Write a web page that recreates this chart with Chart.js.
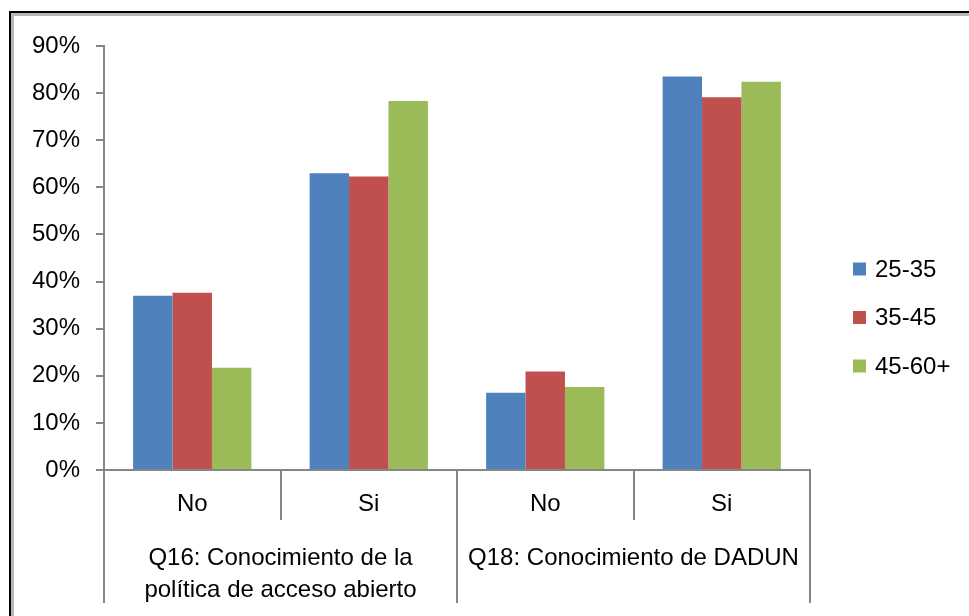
<!DOCTYPE html>
<html>
<head>
<meta charset="utf-8">
<script src="https://cdn.jsdelivr.net/npm/chart.js@4.4.0/dist/chart.umd.min.js"></script>
<style>
  html, body { margin: 0; padding: 0; background: #fff; overflow: hidden; }
  #frame { position: absolute; left: 9px; top: 11px; width: 1000px; height: 700px;
           border-left: 2px solid #000; border-top: 2px solid #000; }
  #frame div { position: absolute; left: 0; top: 0; right: 0; bottom: 0;
               border-left: 3px solid #b8b8b8; border-top: 3px solid #b8b8b8; }
  #wrap { position: absolute; left: 0; top: 0; width: 969px; height: 616px; }
</style>
</head>
<body>
<div id="frame"><div></div></div>
<div id="wrap"><canvas id="myChart"></canvas></div>
<script>
// categories (inner level) and their groups (outer level)
const categories = ["No", "Si", "No", "Si"];
const groupLabels = [
  ["Q16: Conocimiento de la", "política de acceso abierto"],
  ["Q18: Conocimiento de DADUN"],
];
const groupSizes = [2, 2];

// series, in percent
const seriesNames = ["25-35", "35-45", "45-60+"];
const age25to35 = [37.0, 63.0, 16.4, 83.5];
const age35to45 = [37.6, 62.3, 20.9, 79.1];
const age45to60 = [21.7, 78.3, 17.6, 82.4];
const barColors = ["#4F81BD", "#C0504D", "#9BBB59"];

const yMax = 90;
const yStep = 10;

const axisGray = "#868686";
const fontFamily = "'Liberation Sans', Arial, sans-serif";

// Excel style two level category axis: dividers + group labels
const groupAxis = {
  id: "groupAxis",
  afterDraw(chart) {
    const ctx = chart.ctx;
    const x = chart.scales.x;
    const area = chart.chartArea;
    const step = x.getPixelForValue(1) - x.getPixelForValue(0);
    const edges = [0];
    groupSizes.forEach((n) => edges.push(edges[edges.length - 1] + n));

    ctx.save();
    ctx.strokeStyle = axisGray;
    ctx.lineWidth = 2;
    for (let b = 0; b <= categories.length; b++) {
      const px = Math.round(x.getPixelForValue(0) + (b - 0.5) * step);
      const len = edges.includes(b) ? 133 : 50;
      ctx.beginPath();
      ctx.moveTo(px, area.bottom);
      ctx.lineTo(px, area.bottom + len);
      ctx.stroke();
    }

    ctx.fillStyle = "#000";
    ctx.font = "24px " + fontFamily;
    ctx.textAlign = "center";
    ctx.textBaseline = "middle";
    groupLabels.forEach((lines, g) => {
      const first = edges[g];
      const last = edges[g + 1] - 1;
      const cx = (x.getPixelForValue(first) + x.getPixelForValue(last)) / 2;
      lines.forEach((line, j) => {
        ctx.fillText(line, cx, area.bottom + 88 + j * 32);
      });
    });
    ctx.restore();
  },
};

// legend on the right, drawn from the datasets
const sideLegend = {
  id: "sideLegend",
  afterDraw(chart) {
    const ctx = chart.ctx;
    const area = chart.chartArea;
    ctx.save();
    ctx.font = "24px " + fontFamily;
    ctx.textBaseline = "middle";
    ctx.textAlign = "left";
    chart.data.datasets.forEach((ds, i) => {
      const cy = 269 + i * 48.5;
      ctx.fillStyle = ds.backgroundColor;
      ctx.fillRect(area.right + 43, cy - 6.5, 13, 13);
      ctx.fillStyle = "#000";
      ctx.fillText(ds.label, area.right + 65, cy + 1);
    });
    ctx.restore();
  },
};

const seriesData = [age25to35, age35to45, age45to60];

new Chart("myChart", {
  type: "bar",
  data: {
    labels: categories,
    datasets: seriesNames.map((name, i) => ({
      label: name,
      data: seriesData[i],
      backgroundColor: barColors[i],
      categoryPercentage: 0.67,
      barPercentage: 1.0,
    })),
  },
  options: {
    responsive: true,
    maintainAspectRatio: false,
    animation: false,
    layout: { padding: { top: 46, right: 159, bottom: 0, left: 0 } },
    plugins: {
      legend: { display: false },
      tooltip: { enabled: false },
    },
    scales: {
      x: {
        grid: { display: true, drawOnChartArea: false, drawTicks: false },
        border: { color: axisGray, width: 2 },
        ticks: { color: "#000", padding: 20, font: { size: 24, family: fontFamily } },
        afterFit: (s) => { s.height = 146; },
      },
      y: {
        min: 0,
        max: yMax,
        ticks: {
          stepSize: yStep,
          color: "#000",
          padding: 16,
          font: { size: 24, family: fontFamily },
          callback: (v) => v + "%",
        },
        grid: { drawOnChartArea: false, drawTicks: true, tickLength: 8, color: axisGray, lineWidth: 2 },
        border: { color: axisGray, width: 2 },
        afterFit: (s) => { s.width = 104; },
      },
    },
  },
  plugins: [groupAxis, sideLegend],
});
</script>
</body>
</html>
